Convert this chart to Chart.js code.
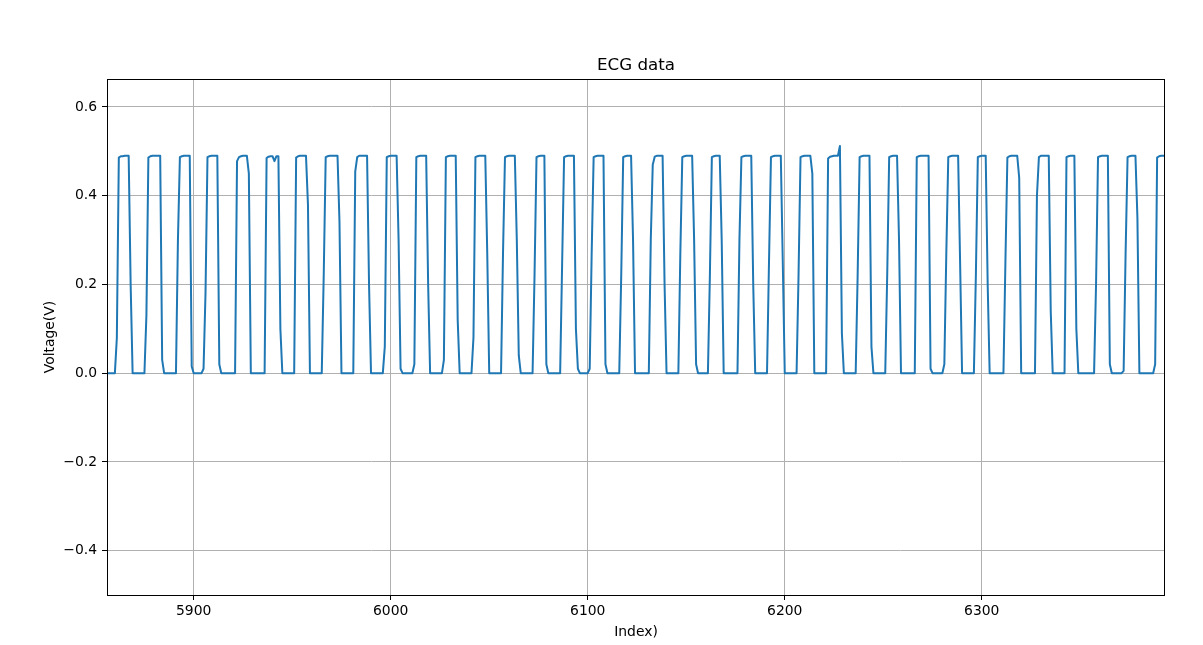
<!DOCTYPE html>
<html>
<head>
<meta charset="utf-8">
<script src="https://cdn.jsdelivr.net/npm/chart.js@4"></script>
<style>
  body { margin: 0; background: #fff; }
  #ecg { display: block; }
</style>
</head>
<body>
<canvas id="ecg" width="1203" height="645"></canvas>
<script>
// ECG samples, first sample is at index 5856, one row = 10 samples
const startIndex = 5856;
const voltage = [
  0, 0, 0, 0, 0, 0.08, 0.486, 0.489, 0.489, 0.49,          // 5856
  0.49, 0.49, 0.2, 0, 0, 0, 0, 0, 0, 0,                    // 5866
  0.13, 0.486, 0.489, 0.49, 0.49, 0.49, 0.49, 0.49, 0.03, 0, // 5876
  0, 0, 0, 0, 0, 0, 0.3, 0.487, 0.489, 0.49,               // 5886
  0.49, 0.49, 0.49, 0.015, 0, 0, 0, 0, 0, 0.01,            // 5896
  0.18, 0.487, 0.489, 0.49, 0.49, 0.49, 0.49, 0.02, 0, 0,  // 5906
  0, 0, 0, 0, 0, 0, 0.478, 0.487, 0.489, 0.49,             // 5916
  0.49, 0.49, 0.45, 0, 0, 0, 0, 0, 0, 0,                   // 5926
  0, 0.485, 0.488, 0.489, 0.489, 0.478, 0.489, 0.489, 0.1, 0, // 5936
  0, 0, 0, 0, 0, 0, 0.486, 0.489, 0.49, 0.49,              // 5946
  0.49, 0.49, 0.38, 0, 0, 0, 0, 0, 0, 0,                   // 5956
  0.22, 0.487, 0.489, 0.49, 0.49, 0.49, 0.49, 0.49, 0.34, 0, // 5966
  0, 0, 0, 0, 0, 0, 0.455, 0.487, 0.49, 0.49,              // 5976
  0.49, 0.49, 0.49, 0.2, 0, 0, 0, 0, 0, 0,                 // 5986
  0, 0.06, 0.487, 0.489, 0.49, 0.49, 0.49, 0.49, 0.3, 0.01, // 5996
  0, 0, 0, 0, 0, 0, 0.02, 0.487, 0.489, 0.49,              // 6006
  0.49, 0.49, 0.49, 0.2, 0, 0, 0, 0, 0, 0,                 // 6016
  0, 0.03, 0.487, 0.489, 0.49, 0.49, 0.49, 0.49, 0.12, 0,  // 6026
  0, 0, 0, 0, 0, 0, 0.08, 0.487, 0.489, 0.49,              // 6036
  0.49, 0.49, 0.49, 0.27, 0, 0, 0, 0, 0, 0,                // 6046
  0, 0.27, 0.487, 0.489, 0.49, 0.49, 0.49, 0.49, 0.3, 0.04, // 6056
  0, 0, 0, 0, 0, 0, 0, 0.22, 0.487, 0.489,                 // 6066
  0.49, 0.49, 0.49, 0.02, 0, 0, 0, 0, 0, 0,                // 6076
  0, 0.245, 0.487, 0.489, 0.49, 0.49, 0.49, 0.49, 0.1, 0.01, // 6086
  0, 0, 0, 0, 0, 0.01, 0.27, 0.487, 0.489, 0.49,           // 6096
  0.49, 0.49, 0.49, 0.02, 0, 0, 0, 0, 0, 0,                // 6106
  0, 0.22, 0.487, 0.489, 0.49, 0.49, 0.49, 0.3, 0, 0,      // 6116
  0, 0, 0, 0, 0, 0, 0.3, 0.47, 0.488, 0.49,                // 6126
  0.49, 0.49, 0.49, 0.2, 0, 0, 0, 0, 0, 0,                 // 6136
  0, 0.27, 0.487, 0.489, 0.49, 0.49, 0.49, 0.49, 0.3, 0.02, // 6146
  0, 0, 0, 0, 0, 0, 0.22, 0.487, 0.489, 0.49,              // 6156
  0.49, 0.49, 0.3, 0, 0, 0, 0, 0, 0, 0,                    // 6166
  0, 0.3, 0.487, 0.489, 0.49, 0.49, 0.49, 0.49, 0.2, 0,    // 6176
  0, 0, 0, 0, 0, 0, 0.25, 0.487, 0.489, 0.49,              // 6186
  0.49, 0.49, 0.49, 0.25, 0, 0, 0, 0, 0, 0,                // 6196
  0, 0.22, 0.487, 0.489, 0.49, 0.49, 0.49, 0.49, 0.45, 0,  // 6206
  0, 0, 0, 0, 0, 0, 0.484, 0.488, 0.489, 0.49,             // 6216
  0.49, 0.49, 0.512, 0.09, 0, 0, 0, 0, 0, 0,               // 6226
  0, 0.22, 0.487, 0.489, 0.49, 0.49, 0.49, 0.49, 0.06, 0,  // 6236
  0, 0, 0, 0, 0, 0, 0.22, 0.487, 0.489, 0.49,              // 6246
  0.49, 0.49, 0.3, 0, 0, 0, 0, 0, 0, 0,                    // 6256
  0, 0.487, 0.489, 0.49, 0.49, 0.49, 0.49, 0.49, 0.01, 0,  // 6266
  0, 0, 0, 0, 0, 0.02, 0.27, 0.487, 0.489, 0.49,           // 6276
  0.49, 0.49, 0.49, 0.25, 0, 0, 0, 0, 0, 0,                // 6286
  0, 0.22, 0.487, 0.489, 0.49, 0.49, 0.49, 0.2, 0, 0,      // 6296
  0, 0, 0, 0, 0, 0, 0.25, 0.486, 0.489, 0.49,              // 6306
  0.49, 0.49, 0.49, 0.44, 0, 0, 0, 0, 0, 0,                // 6316
  0, 0, 0.4, 0.487, 0.49, 0.49, 0.49, 0.49, 0.49, 0.14,    // 6326
  0, 0, 0, 0, 0, 0, 0, 0.487, 0.489, 0.49,                 // 6336
  0.49, 0.49, 0.1, 0, 0, 0, 0, 0, 0, 0,                    // 6346
  0, 0, 0.2, 0.487, 0.489, 0.49, 0.49, 0.49, 0.49, 0.02,   // 6356
  0, 0, 0, 0, 0, 0, 0.005, 0.27, 0.487, 0.489,             // 6366
  0.49, 0.49, 0.49, 0.35, 0, 0, 0, 0, 0, 0,                // 6376
  0, 0, 0.02, 0.486, 0.489, 0.49, 0.49, 0.49               // 6386
];

const xTicks = [5900, 6000, 6100, 6200, 6300];
const yTicks = [-0.4, -0.2, 0.0, 0.2, 0.4, 0.6];
const xRange = [5856, 6393];
const yRange = [-0.5, 0.663];

const points = voltage.map((v, i) => ({ x: startIndex + i, y: v }));

const fontFamily = "'DejaVu Sans', sans-serif";

// draws the full box around the plot area like matplotlib spines
const frame = {
  id: "frame",
  afterDraw(chart) {
    const { ctx, chartArea } = chart;
    ctx.save();
    ctx.strokeStyle = "#000";
    ctx.lineWidth = 1;
    ctx.strokeRect(
      Math.round(chartArea.left) + 0.5,
      Math.round(chartArea.top) + 0.5,
      Math.round(chartArea.right - chartArea.left) - 1,
      Math.round(chartArea.bottom - chartArea.top)
    );
    ctx.restore();
  },
};

new Chart(document.getElementById("ecg"), {
  type: "line",
  data: {
    datasets: [
      {
        data: points,
        borderColor: "#1f77b4",
        borderWidth: 2,
        borderJoinStyle: "round",
        borderCapStyle: "butt",
        pointRadius: 0,
        tension: 0,
        fill: false,
      },
    ],
  },
  options: {
    responsive: false,
    animation: false,
    layout: { padding: { top: 56, right: 38, bottom: 0, left: 0 } },
    plugins: {
      legend: { display: false },
      tooltip: { enabled: false },
      title: {
        display: true,
        text: "ECG data",
        fullSize: false,
        color: "#000",
        font: { family: fontFamily, size: 16.7, weight: "normal" },
        padding: { top: 0, bottom: 3 },
      },
    },
    scales: {
      x: {
        type: "linear",
        min: xRange[0],
        max: xRange[1],
        afterBuildTicks: (scale) => {
          scale.ticks = xTicks.map((v) => ({ value: v }));
        },
        afterFit: (scale) => {
          scale.height = 50;
        },
        grid: { color: "#b0b0b0", lineWidth: 1, tickColor: "#000", tickLength: 5 },
        border: { display: false },
        ticks: {
          color: "#000",
          padding: 3,
          maxRotation: 0,
          font: { family: fontFamily, size: 13.9 },
          callback: (v) => String(v),
        },
        title: {
          display: true,
          text: "Index)",
          color: "#000",
          font: { family: fontFamily, size: 13.9 },
          padding: { top: 0, bottom: 4 },
        },
      },
      y: {
        type: "linear",
        min: yRange[0],
        max: yRange[1],
        afterBuildTicks: (scale) => {
          scale.ticks = yTicks.map((v) => ({ value: v }));
        },
        afterFit: (scale) => {
          scale.width = 107;
        },
        grid: { color: "#b0b0b0", lineWidth: 1, tickColor: "#000", tickLength: 5 },
        border: { display: false },
        ticks: {
          color: "#000",
          padding: 5,
          font: { family: fontFamily, size: 13.9 },
          callback: (v) => v.toFixed(1).replace("-", "\u2212"),
        },
        title: {
          display: true,
          text: "Voltage(V)",
          color: "#000",
          font: { family: fontFamily, size: 13.9 },
          padding: { top: 42, bottom: 0 },
        },
      },
    },
  },
  plugins: [frame],
});
</script>
</body>
</html>
